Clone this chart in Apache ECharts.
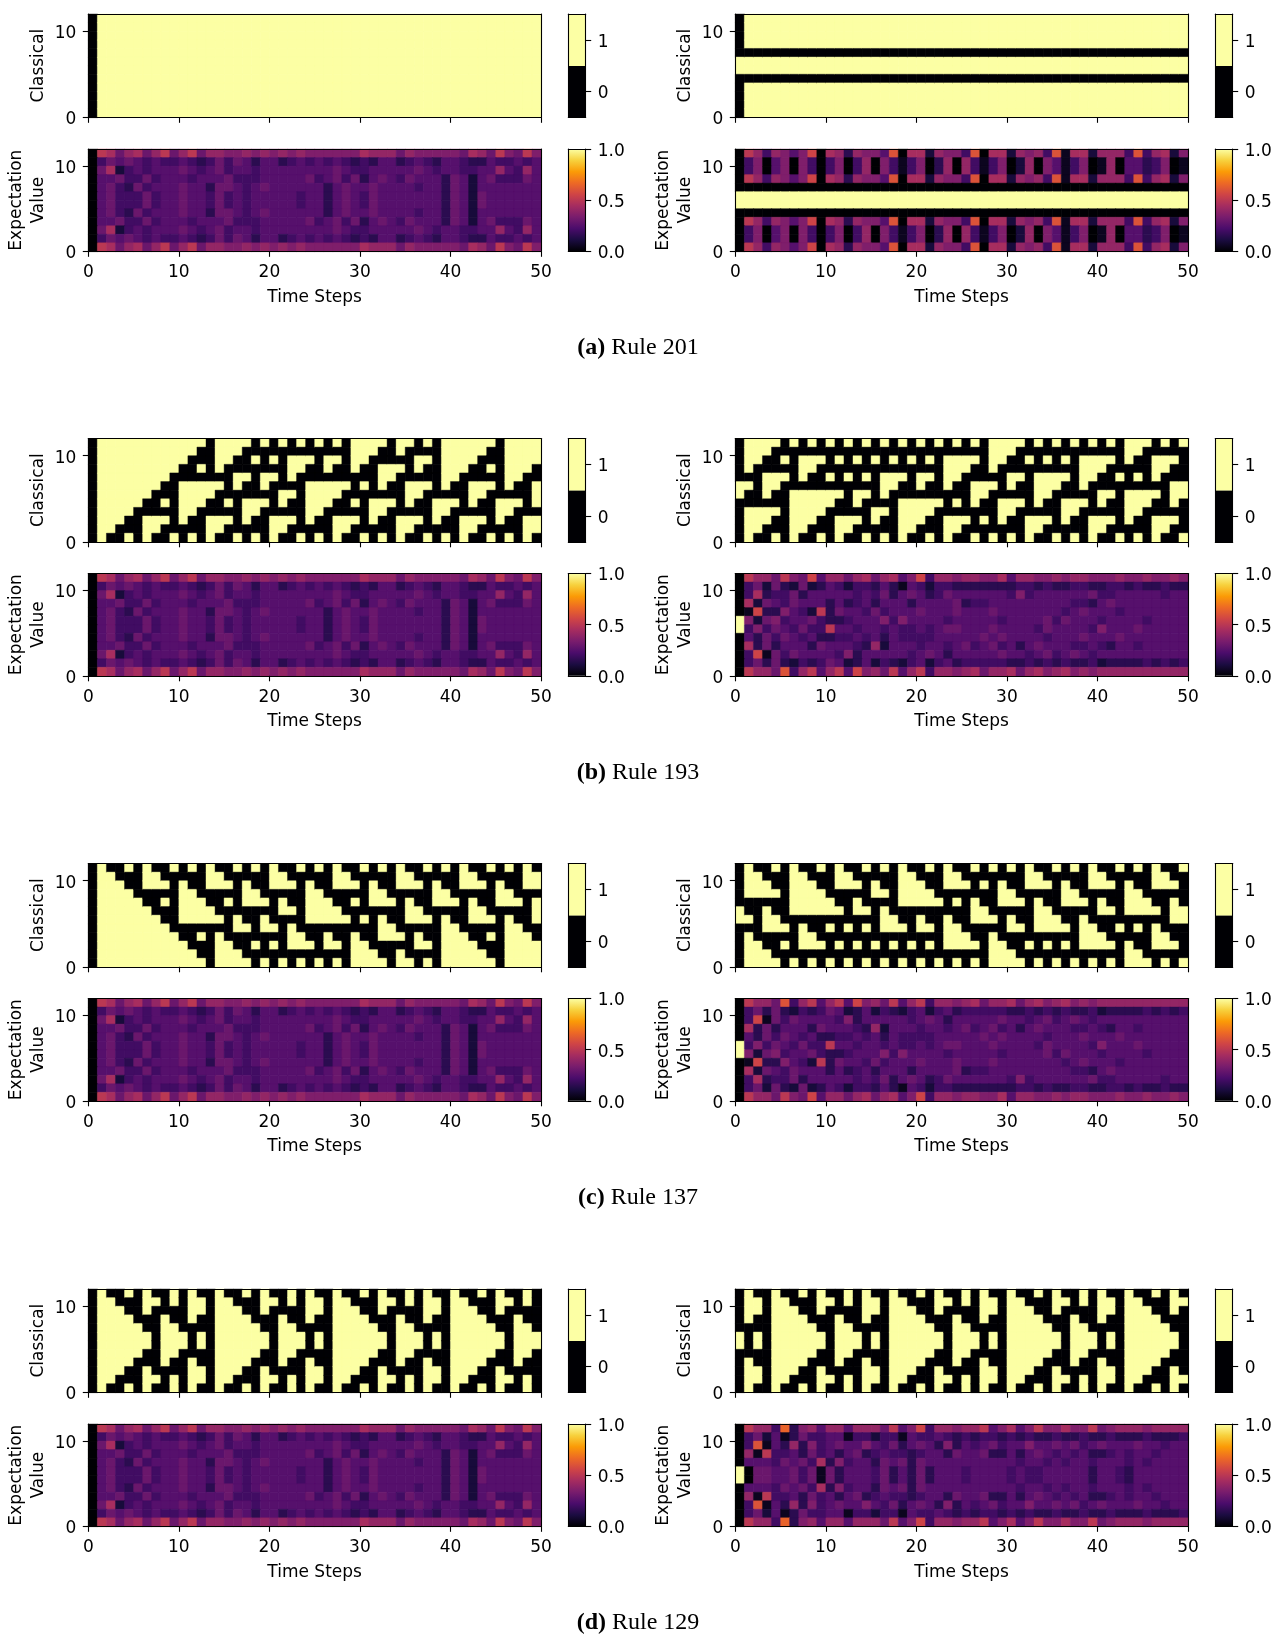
<!DOCTYPE html>
<html>
<head>
<meta charset="utf-8">
<script src="https://cdn.jsdelivr.net/npm/echarts@6/dist/echarts.min.js"></script>
<style>
html, body { margin: 0; padding: 0; background: #fff; }
#chart { width: 1287px; height: 1637px; }
</style>
</head>
<body>
<div id="chart"></div>
<script>
// classical states: one string per time step, 12 cells written top (cell 11) to bottom (cell 0)
var clsA_L = [
 '000000000000','111111111111','111111111111','111111111111','111111111111','111111111111','111111111111','111111111111','111111111111','111111111111',
 '111111111111','111111111111','111111111111','111111111111','111111111111','111111111111','111111111111','111111111111','111111111111','111111111111',
 '111111111111','111111111111','111111111111','111111111111','111111111111','111111111111','111111111111','111111111111','111111111111','111111111111',
 '111111111111','111111111111','111111111111','111111111111','111111111111','111111111111','111111111111','111111111111','111111111111','111111111111',
 '111111111111','111111111111','111111111111','111111111111','111111111111','111111111111','111111111111','111111111111','111111111111','111111111111'
];
var clsA_R = [
 '000001100000','111101101111','111101101111','111101101111','111101101111','111101101111','111101101111','111101101111','111101101111','111101101111',
 '111101101111','111101101111','111101101111','111101101111','111101101111','111101101111','111101101111','111101101111','111101101111','111101101111',
 '111101101111','111101101111','111101101111','111101101111','111101101111','111101101111','111101101111','111101101111','111101101111','111101101111',
 '111101101111','111101101111','111101101111','111101101111','111101101111','111101101111','111101101111','111101101111','111101101111','111101101111',
 '111101101111','111101101111','111101101111','111101101111','111101101111','111101101111','111101101111','111101101111','111101101111','111101101111'
];
var clsB_L = [
 '000000000000','111111111111','111111111110','111111111100','111111111001','111111110000','111111100111','111111000110','111110010100','111100000001',
 '111001111100','110001111001','100101110000','000001100111','111101000110','111000010100','110011000001','100010011100','001000011001','100011010000',
 '001010000111','100000110110','001110100100','101100000001','001001111100','100001111001','001101110000','101001100111','000001000110','111100010100',
 '111001000001','110000011100','100111011001','000110010000','110100000111','100001110110','001101100100','101001000001','000000011100','111111011001',
 '111110010000','111100000111','111001110110','110001100100','100101000001','000000011100','111111011001','111110010000','111100000111','111001110110'
];
var clsB_R = [
 '000001100000','111101001111','111000001110','110011101100','100011001001','001010000000','100000111111','001110111110','101100111100','001000111001',
 '100010110000','001000100111','100010000110','001000110100','100010100001','001000001100','100011101001','001011000000','100010011111','001000011110',
 '100011011100','001010011001','100000010000','001111000111','101110010110','001100000100','101001110001','000001100100','111101000001','111000011100',
 '110011011001','100010010000','001000000111','100011110110','001011100100','100011000001','001010011100','100000011001','001111010000','101110000111',
 '001100110110','101000100100','000010000001','111000111100','110010111001','100000110000','001110100111','101100000110','001001110100','100001100001'
];
var clsC_L = [
 '000000000000','111111111111','011111111111','001111111111','100111111111','000011111111','111001111111','011000111111','001010011111','100000001111',
 '001111100111','100111100011','000011101001','111001100000','011000101111','001010000111','100000110011','001110010001','100110000100','000010110001',
 '111000010100','011011000001','001001011100','100000001101','001111100100','100111100001','000011101100','111001100101','011000100000','001010001111',
 '100000100111','001110000011','100110111001','000010011000','111000001011','011011100001','001001101100','100000100101','001110000000','100110111111',
 '000010011111','111000001111','011011100111','001001100011','100000101001','001110000000','100110111111','000010011111','111000001111','011011100111'
];
var clsC_R = [
 '000001100000','111100101111','011100000111','001101110011','100100110001','000000010100','111111000001','011111011100','001111001101','100111000100',
 '000011010001','111001000100','011000010001','001011000100','100001010001','001100000100','100101110001','000000110100','111110010001','011110000100',
 '001110110001','100110010100','000010000001','111000111100','011010011101','001000001100','100011100101','001001100000','100000101111','001110000111',
 '100110110011','000010010001','111000000100','011011110001','001001110100','100000110001','001110010100','100110000001','000010111100','111000011101',
 '011011001100','001001000101','100000010000','001111000111','100111010011','000011000001','111001011100','011000001101','001011100100','100001100001'
];
var clsD_L = [
 '000000000000','111111111111','011111111110','001111111100','100111111001','000011110000','111001100111','010000000010','000111111000','110011110011',
 '000001100000','111100001111','011001100110','000000000000','111111111111','011111111110','001111111100','100111111001','000011110000','111001100111',
 '010000000010','000111111000','110011110011','000001100000','111100001111','011001100110','000000000000','111111111111','011111111110','001111111100',
 '100111111001','000011110000','111001100111','010000000010','000111111000','110011110011','000001100000','111100001111','011001100110','000000000000',
 '111111111111','011111111110','001111111100','100111111001','000011110000','111001100111','010000000010','000111111000','110011110011','000001100000'
];
var clsD_R = [
 '000001100000','111100001111','011001100110','000000000000','111111111111','011111111110','001111111100','100111111001','000011110000','111001100111',
 '010000000010','000111111000','110011110011','000001100000','111100001111','011001100110','000000000000','111111111111','011111111110','001111111100',
 '100111111001','000011110000','111001100111','010000000010','000111111000','110011110011','000001100000','111100001111','011001100110','000000000000',
 '111111111111','011111111110','001111111100','100111111001','000011110000','111001100111','010000000010','000111111000','110011110011','000001100000',
 '111100001111','011001100110','000000000000','111111111111','011111111110','001111111100','100111111001','000011110000','111001100111','010000000010'
];

// expectation values: one string per cell row (top row first), one char per time step,
// value = base-36 digit / 20  (0 -> 0.0, a -> 0.5, k -> 1.0)
var expAllZeroInit = [
 '0a968 968a6 8a688 77878 78787 77777 98886 87777 76986 a76a7',
 '04656 54544 54346 46535 53454 54543 43553 45435 54335 44545',
 '06924 54555 65456 45545 55555 55654 45555 56545 54455 85485',
 '05564 46455 54555 64445 55556 45646 35654 65553 65256 44465',
 '05643 64555 65536 65456 55555 53565 56555 54553 65255 55555',
 '05644 46455 65546 45455 55545 53565 46555 55553 65265 55555',
 '05644 46455 65546 45455 55545 53565 46555 55553 65265 55555',
 '05643 64555 65536 65456 55555 53565 56555 54553 65255 55555',
 '05564 46455 54555 64445 55556 45646 35654 65553 65256 44465',
 '06924 54555 65456 45545 55555 55654 45555 56545 54455 85485',
 '04656 54544 54346 46535 53454 54543 43553 45435 54335 44545',
 '0a968 968a6 8a688 77878 78787 77777 98886 87777 76986 a76a7'
];
var expA_R = [
 '0a848 757b0 98387 75c09 92877 4c099 28784 c1992 8884c 48927',
 '04705 70740 47048 07414 70380 84147 02807 51470 18055 34701',
 '04705 70740 47048 07414 70380 84147 02807 51470 18055 34701',
 '0a848 757b0 98387 75c09 92877 4c099 28784 c1992 8884c 48927',
 '00000 00000 00000 00000 00000 00000 00000 00000 00000 00000',
 'kkkkk kkkkk kkkkk kkkkk kkkkk kkkkk kkkkk kkkkk kkkkk kkkkk',
 'kkkkk kkkkk kkkkk kkkkk kkkkk kkkkk kkkkk kkkkk kkkkk kkkkk',
 '00000 00000 00000 00000 00000 00000 00000 00000 00000 00000',
 '0a848 757b0 98387 75c09 92877 4c099 28784 c1992 8884c 48927',
 '04705 70740 47048 07414 70380 84147 02807 51470 18055 34701',
 '04705 70740 47048 07414 70380 84147 02807 51470 18055 34701',
 '0a848 757b0 98387 75c09 92877 4c099 28784 c1992 8884c 48927'
];
var expB_R = [
 '0a886 a76b5 88689 68957 b4887 88779 58877 87887 77877 87787',
 '04626 32623 54244 35315 42443 33333 34434 33443 34434 33433',
 '04934 46355 55545 46356 53465 55555 47455 55556 44555 55455',
 '09265 46555 35345 35553 55556 34455 55555 55443 56555 55555',
 '01b33 7542a 36554 64555 65556 55565 55555 54565 55455 55555',
 'k7267 45564 33455 57475 55545 55554 55556 46555 45555 45555',
 'k4746 54644 a5545 54544 54566 55565 55546 55554 75556 55555',
 '05364 65453 34454 53544 44555 55656 55554 55565 55655 55555',
 '09363 55536 55543 82555 45545 64564 53565 55445 43554 55555',
 '04b16 46555 54735 55554 56535 55556 55456 45654 55555 55555',
 '04636 32434 65235 24324 52453 44444 33434 34334 23333 43434',
 '0a886 c48a5 8a5b7 86a58 a4887 89688 96897 89787 88888 88888'
];
var expC_R = [
 '0a886 c48a5 8a5b7 86a58 a4887 89688 96897 89787 88888 88888',
 '04636 32434 65235 24324 52453 44444 33434 34334 23333 43434',
 '04b16 46555 54735 55554 56535 55556 55456 45654 55555 55555',
 '09363 55536 55543 82555 45545 64564 53565 55445 43554 55555',
 '05364 65453 34454 53544 44555 55656 55554 55565 55655 55555',
 'k4746 54644 a5545 54544 54566 55565 55546 55554 75556 55555',
 'k7267 45564 33455 57475 55545 55554 55556 46555 45555 45555',
 '01b33 7542a 36554 64555 65556 55565 55555 54565 55455 55555',
 '09265 46555 35345 35553 55556 34455 55555 55443 56555 55555',
 '04934 46355 55545 46356 53465 55555 47455 55556 44555 55455',
 '04626 32623 54244 35315 42443 33333 34434 33443 34434 33433',
 '0a886 a76b5 88689 68957 b4887 88779 58877 87887 77877 87787'
];
var expD_R = [
 '0a884 d3785 88588 86a57 b4887 88a57 957a7 7977a 67888 78888',
 '04625 13644 55144 24415 44543 43443 43433 43343 34333 43334',
 '04c15 38374 56557 54635 65373 54564 55755 65645 65556 55455',
 '081a4 45364 53563 45443 45536 55633 53565 45453 34545 54555',
 '05554 65649 37455 36563 65555 55555 54554 54554 55545 45555',
 'k0665 56461 63555 46353 63555 45555 45445 55553 55435 55555',
 'k0665 56461 63555 46353 63555 45555 45445 55553 55435 55555',
 '05554 65649 37455 36563 65555 55555 54554 54554 55545 45555',
 '081a4 45364 53563 45443 45536 55633 53565 45453 34545 54555',
 '04c15 38374 56557 54635 65373 54564 55755 65645 65556 55455',
 '04625 13644 55144 24415 44543 43443 43433 43343 34333 43334',
 '0a884 d3785 88588 86a57 b4887 88a57 957a7 7977a 67888 78888'
];

var rowTicks = [0, 10];
var binLevels = [0, 1];

var infernoColors = ['#000004', '#1b0c41', '#4a0c6b', '#781c6d', '#a52c60', '#cf4446', '#ed6925', '#fb9b06', '#f7d13d', '#fcffa4'];
var binaryColors = ['#000004', '#fcffa4'];

var panels = [
    { tag: '(a)', rule: 'Rule 201', cls: [clsA_L, clsA_R], exp: [expAllZeroInit, expA_R] },
    { tag: '(b)', rule: 'Rule 193', cls: [clsB_L, clsB_R], exp: [expAllZeroInit, expB_R] },
    { tag: '(c)', rule: 'Rule 137', cls: [clsC_L, clsC_R], exp: [expAllZeroInit, expC_R] },
    { tag: '(d)', rule: 'Rule 129', cls: [clsD_L, clsD_R], exp: [expAllZeroInit, expD_R] }
];

// layout (px)
var colLeft = [88.3, 735.3], plotW = 452.7;
var cbLeft = [568.3, 1215.3], cbW = 17.4;
var panelTop = [14, 438.5, 863.5, 1289];
var clsH = 103.3, expOff = 135, expH = 102.3;

function classicalCells(cols) {
    var out = [];
    cols.forEach(function (col, t) {
        for (var k = 0; k < col.length; k++) {
            out.push([t, col.length - 1 - k, +col[k]]);
        }
    });
    return out;
}

function expectationCells(rows) {
    var out = [];
    rows.forEach(function (row, k) {
        var r = row.replace(/ /g, '');
        for (var t = 0; t < r.length; t++) {
            out.push([t, rows.length - 1 - k, parseInt(r[t], 36) / 20]);
        }
    });
    return out;
}

function renderCell(params, api) {
    var x = api.value(0), y = api.value(1);
    var a = api.coord([x, y + 1]);
    var b = api.coord([x + 1, y]);
    var c = api.visual('color');
    return {
        type: 'rect',
        shape: { x: a[0], y: a[1], width: b[0] - a[0] + 0.4, height: b[1] - a[1] + 0.4 },
        style: { fill: c, stroke: c, lineWidth: 0.4 }
    };
}

function renderBinBar(params, api) {
    var v = api.value(1);
    var a = api.coord([0, v + 0.5]);
    var b = api.coord([1, v - 0.5]);
    return {
        type: 'rect',
        shape: { x: a[0], y: a[1], width: b[0] - a[0], height: b[1] - a[1] + 0.3 },
        style: { fill: api.visual('color') }
    };
}

function renderGradientBar(params, api) {
    var a = api.coord([0, 1]);
    var b = api.coord([1, 0]);
    var stops = infernoColors.map(function (c, i) {
        return { offset: i / (infernoColors.length - 1), color: c };
    });
    return {
        type: 'rect',
        shape: { x: a[0], y: a[1], width: b[0] - a[0], height: b[1] - a[1] },
        style: { fill: new echarts.graphic.LinearGradient(0, 1, 0, 0, stops) }
    };
}

var spine = { show: true, onZero: false, lineStyle: { color: '#000', width: 1.1 } };
var tick = { show: true, inside: false, length: 5.5, lineStyle: { color: '#000', width: 1.1 } };
var labelFont = { show: true, color: '#000', fontFamily: 'DejaVu Sans', fontSize: 17 };
var nameFont = { color: '#000', fontFamily: 'DejaVu Sans', fontSize: 17, lineHeight: 22 };
// vertical labels sit a touch lower than the tick centre, like matplotlib
var lowRich = { t: { color: '#000', fontFamily: 'DejaVu Sans', fontSize: 17, padding: [5, 0, 0, 0] } };

var grids = [], xAxes = [], yAxes = [], series = [];
var clsSeries = [], expSeries = [];

function addGrid(left, top, w, h) {
    grids.push({ left: left, top: top, width: w, height: h, containLabel: false, outerBoundsMode: 'none' });
    return grids.length - 1;
}

// four spines per box; bottom/left/right options merged in
function frame(g, xMin, xMax, yMin, yMax, bottom, left, right) {
    var base = {
        gridIndex: g, type: 'value', axisLine: spine, splitLine: { show: false },
        axisTick: { show: false }, axisLabel: { show: false }, z: 10, nameMoveOverlap: false
    };
    var xi = xAxes.length, yi = yAxes.length;
    xAxes.push(Object.assign({}, base, { min: xMin, max: xMax, position: 'bottom' }, bottom || {}));
    xAxes.push(Object.assign({}, base, { min: xMin, max: xMax, position: 'top' }));
    yAxes.push(Object.assign({}, base, { min: yMin, max: yMax, position: 'left' }, left || {}));
    yAxes.push(Object.assign({}, base, { min: yMin, max: yMax, position: 'right' }, right || {}));
    return [xi, yi];
}

function lowLabel(extra, fmt) {
    return Object.assign({}, labelFont, {
        margin: 12, rich: lowRich,
        formatter: function (v) { return '{t|' + (fmt ? fmt(v) : v) + '}'; }
    }, extra || {});
}

function yLeft(name) {
    return {
        axisTick: Object.assign({}, tick, { customValues: rowTicks }),
        axisLabel: lowLabel({ customValues: rowTicks }),
        name: name, nameLocation: 'middle', nameRotate: 90, nameGap: 39, nameTextStyle: nameFont
    };
}

panels.forEach(function (p, i) {
    [0, 1].forEach(function (s) {
        var top = panelTop[i];

        // classical heatmap
        var g = addGrid(colLeft[s], top, plotW, clsH);
        var ix = frame(g, 0, 50, 0, 12, { interval: 10, axisTick: tick }, yLeft('Classical'));
        clsSeries.push(series.length);
        series.push({
            type: 'custom', xAxisIndex: ix[0], yAxisIndex: ix[1], encode: { x: 0, y: 1 },
            data: classicalCells(p.cls[s]), renderItem: renderCell, silent: true, z: 2
        });

        // expectation heatmap
        g = addGrid(colLeft[s], top + expOff, plotW, expH);
        ix = frame(g, 0, 50, 0, 12, {
            interval: 10, axisTick: tick,
            axisLabel: Object.assign({}, labelFont, { margin: 13 }),
            name: 'Time Steps', nameLocation: 'middle', nameGap: 35, nameTextStyle: nameFont
        }, yLeft('Expectation\nValue'));
        expSeries.push(series.length);
        series.push({
            type: 'custom', xAxisIndex: ix[0], yAxisIndex: ix[1], encode: { x: 0, y: 1 },
            data: expectationCells(p.exp[s]), renderItem: renderCell, silent: true, z: 2
        });

        // binary colorbar
        g = addGrid(cbLeft[s], top, cbW, clsH);
        ix = frame(g, 0, 1, -0.5, 1.5, null, null, {
            axisTick: Object.assign({}, tick, { customValues: binLevels }),
            axisLabel: lowLabel({ customValues: binLevels })
        });
        clsSeries.push(series.length);
        series.push({
            type: 'custom', xAxisIndex: ix[0], yAxisIndex: ix[1], encode: { x: 0, y: 1 },
            data: binLevels.map(function (v) { return [0, v, v]; }),
            renderItem: renderBinBar, silent: true, z: 2
        });

        // inferno colorbar
        g = addGrid(cbLeft[s], top + expOff, cbW, expH);
        ix = frame(g, 0, 1, 0, 1, null, null, {
            interval: 0.5, axisTick: tick,
            axisLabel: lowLabel(null, function (v) { return v.toFixed(1); })
        });
        series.push({
            type: 'custom', xAxisIndex: ix[0], yAxisIndex: ix[1], encode: { x: 0, y: 1 },
            data: [[0, 0, 1]], renderItem: renderGradientBar, silent: true, z: 2
        });
    });
});

var captions = panels.map(function (p, i) {
    return {
        type: 'text',
        x: 638,
        y: panelTop[i] + 334,
        style: {
            text: '{b|' + p.tag + '} ' + p.rule,
            fontFamily: 'Liberation Serif',
            fontSize: 24,
            fill: '#000',
            align: 'center',
            verticalAlign: 'middle',
            rich: {
                b: { fontWeight: 'bold', fontFamily: 'Liberation Serif', fontSize: 24, fill: '#000' }
            }
        }
    };
});

var chart = echarts.init(document.getElementById('chart'));
chart.setOption({
    animation: false,
    backgroundColor: '#fff',
    grid: grids,
    xAxis: xAxes,
    yAxis: yAxes,
    visualMap: [
        { type: 'continuous', show: false, min: 0, max: 1, dimension: 2, seriesIndex: clsSeries, inRange: { color: binaryColors } },
        { type: 'continuous', show: false, min: 0, max: 1, dimension: 2, seriesIndex: expSeries, inRange: { color: infernoColors } }
    ],
    series: series,
    graphic: captions
});
</script>
</body>
</html>
